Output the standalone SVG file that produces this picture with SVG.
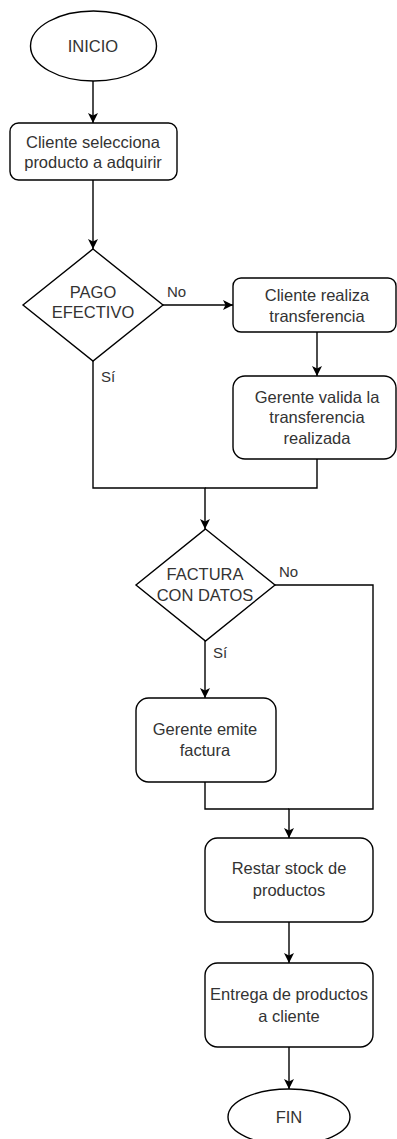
<svg xmlns="http://www.w3.org/2000/svg" width="397" height="1139" viewBox="0 0 397 1139">
<style>
.s{fill:#fff;stroke:#000;stroke-width:1.4}
.c{fill:none;stroke:#000;stroke-width:1.4}
.t{font-family:"Liberation Sans",Arial,sans-serif;font-size:16.5px;fill:#333;text-anchor:middle}
.l{font-family:"Liberation Sans",Arial,sans-serif;font-size:15px;fill:#333}
</style>
<defs>
<marker id="a" viewBox="0 0 10 10" refX="10" refY="5" markerWidth="10" markerHeight="10" markerUnits="userSpaceOnUse" orient="auto">
<path d="M0,0 L10,5 L0,10 L2.5,5 Z" fill="#000"/>
</marker>
</defs>
<rect width="397" height="1139" fill="#fff"/>
<g id="connectors">
<path class="c" d="M93,81 V123" marker-end="url(#a)"/>
<path class="c" d="M93,180 V249" marker-end="url(#a)"/>
<path class="c" d="M163,305 H233" marker-end="url(#a)"/>
<path class="c" d="M317,332 V376" marker-end="url(#a)"/>
<path class="c" d="M93,361 V488 H205 V529" marker-end="url(#a)"/>
<path class="c" d="M317,459 V488 H205"/>
<path class="c" d="M275,585 H373 V809 H289 V838" marker-end="url(#a)"/>
<path class="c" d="M205,641 V698" marker-end="url(#a)"/>
<path class="c" d="M205,782 V809 H289"/>
<path class="c" d="M289,922 V963" marker-end="url(#a)"/>
<path class="c" d="M289,1047 V1089" marker-end="url(#a)"/>
<text class="l" x="167" y="297">No</text>
<text class="l" x="101" y="382">Sí</text>
<text class="l" x="279" y="577">No</text>
<text class="l" x="213" y="658">Sí</text>
</g>
<g id="inicio">
<ellipse class="s" cx="93.5" cy="46" rx="63" ry="35"/>
<text class="t" x="93" y="52">INICIO</text>
</g>
<g id="seleccion">
<rect class="s" x="10" y="123" width="167" height="57" rx="8.5"/>
<text class="t" x="93" y="148">Cliente selecciona</text>
<text class="t" x="93" y="168">producto a adquirir</text>
</g>
<g id="pago">
<path class="s" d="M93,249 L163,305 L93,361 L23,305 Z"/>
<text class="t" x="93" y="298">PAGO</text>
<text class="t" x="93" y="318">EFECTIVO</text>
</g>
<g id="transferencia">
<rect class="s" x="233" y="278" width="163" height="54" rx="8"/>
<text class="t" x="317" y="301">Cliente realiza</text>
<text class="t" x="317" y="322">transferencia</text>
</g>
<g id="valida">
<rect class="s" x="233" y="376" width="163" height="83" rx="12"/>
<text class="t" x="317" y="403">Gerente valida la</text>
<text class="t" x="317" y="423">transferencia</text>
<text class="t" x="317" y="444">realizada</text>
</g>
<g id="factura">
<path class="s" d="M205.5,529 L275,585 L205.5,641 L136,585 Z"/>
<text class="t" x="205" y="580">FACTURA</text>
<text class="t" x="205" y="601">CON DATOS</text>
</g>
<g id="emite">
<rect class="s" x="136" y="698" width="140" height="84" rx="12.5"/>
<text class="t" x="205" y="735">Gerente emite</text>
<text class="t" x="205" y="756">factura</text>
</g>
<g id="stock">
<rect class="s" x="205" y="838" width="168" height="84" rx="12.5"/>
<text class="t" x="289" y="874">Restar stock de</text>
<text class="t" x="289" y="896">productos</text>
</g>
<g id="entrega">
<rect class="s" x="205" y="963" width="168" height="84" rx="12.5"/>
<text class="t" x="289" y="1000">Entrega de productos</text>
<text class="t" x="289" y="1022">a cliente</text>
</g>
<g id="fin">
<ellipse class="s" cx="289" cy="1117" rx="61" ry="28"/>
<text class="t" x="289" y="1123">FIN</text>
</g>
</svg>
